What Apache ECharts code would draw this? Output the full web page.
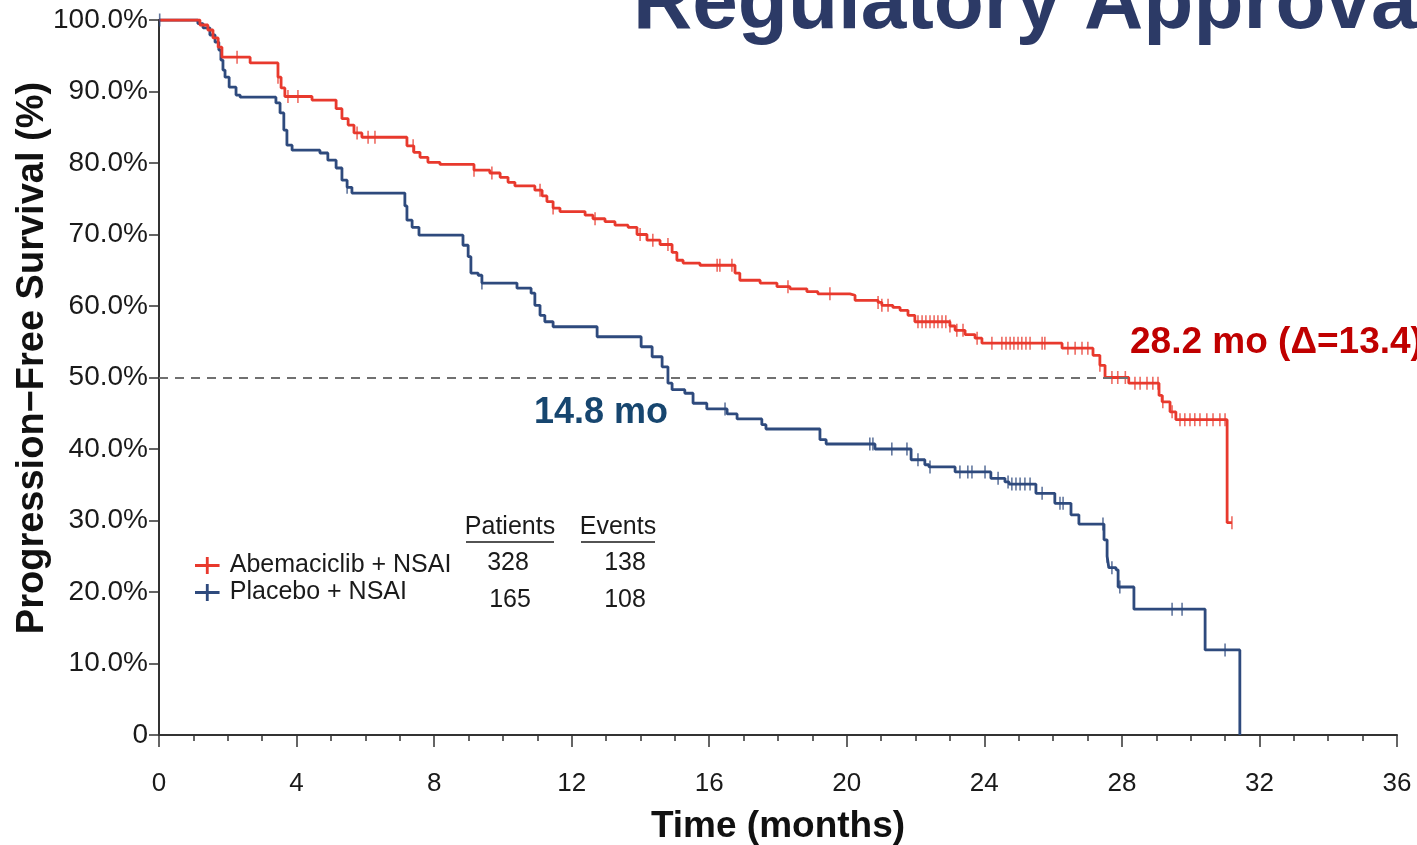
<!DOCTYPE html>
<html>
<head>
<meta charset="utf-8">
<script src="https://cdn.jsdelivr.net/npm/echarts@6/dist/echarts.min.js"></script>
<style>
  html, body { margin: 0; padding: 0; background: #ffffff; }
  #chart { width: 1417px; height: 845px; }
</style>
</head>
<body>
<div id="chart"></div>
<script>
// Kaplan–Meier progression-free survival, MONARCH 3 style display
const seriesNames = ['Abemaciclib + NSAI', 'Placebo + NSAI'];
const patients = [328, 165];
const events = [138, 108];
const medians = [28.2, 14.8];
const medianDelta = 13.4;

const xTicks = [0, 4, 8, 12, 16, 20, 24, 28, 32, 36];
const yTicks = [0, 10, 20, 30, 40, 50, 60, 70, 80, 90, 100];

// [time in months, survival % from that time on]
const abemaSteps = [
  [0,100],[1.19,99.3],[1.42,98.6],[1.57,97.5],[1.72,96.2],[1.83,94.8],[2.65,94.0],[3.46,92.0],[3.55,90.5],[3.66,89.3],
  [4.45,88.8],[5.15,87.6],[5.32,86.2],[5.50,85.3],[5.67,84.2],[5.90,83.6],[7.21,82.4],[7.41,81.5],[7.59,80.8],[7.82,80.1],
  [8.17,79.8],[9.16,79.0],[9.62,78.6],[9.92,78.0],[10.15,77.3],[10.35,76.8],[10.93,76.2],[11.14,75.4],[11.28,74.6],[11.46,73.7],
  [11.66,73.2],[12.39,72.7],[12.62,72.2],[12.97,71.8],[13.26,71.3],[13.64,71.0],[13.90,70.0],[14.19,69.2],[14.57,68.6],[14.92,67.5],
  [15.06,66.4],[15.24,66.0],[15.73,65.7],[16.75,64.6],[16.89,63.6],[17.48,63.2],[17.97,62.7],[18.35,62.4],[18.84,62.0],[19.16,61.7],
  [20.09,61.5],[20.24,60.8],[20.91,60.5],[21.02,60.1],[21.34,59.8],[21.55,59.4],[21.78,58.7],[21.98,57.8],[23.00,57.2],[23.15,56.6],
  [23.44,56.0],[23.73,55.5],[23.93,54.8],[26.26,54.1],[27.16,53.1],[27.36,51.7],[27.51,50.0],[28.2,49.2],[29.08,47.5],[29.17,46.6],
  [29.40,45.2],[29.57,44.1],[31.06,29.7],[31.2,29.7]
];
const placeboSteps = [
  [0,100],[1.13,99.5],[1.28,98.9],[1.48,97.9],[1.63,96.9],[1.74,95.8],[1.80,94.4],[1.86,93.0],[1.92,92.0],[2.04,90.6],
  [2.24,89.5],[2.36,89.2],[3.40,88.4],[3.52,87.0],[3.63,84.6],[3.72,82.5],[3.87,81.8],[4.68,81.4],[4.91,80.4],[5.15,79.3],
  [5.32,77.6],[5.47,76.6],[5.61,75.8],[7.15,74.0],[7.21,72.0],[7.36,71.0],[7.56,69.9],[8.84,68.5],[8.99,66.9],[9.07,64.6],
  [9.28,64.3],[9.39,63.2],[10.41,62.5],[10.82,61.8],[10.93,60.1],[11.08,58.7],[11.22,57.8],[11.46,57.1],[12.74,55.7],[14.02,54.3],
  [14.34,52.9],[14.63,51.5],[14.8,49.2],[14.92,48.3],[15.29,47.8],[15.53,46.4],[15.93,45.6],[16.52,44.9],[16.81,44.2],[17.53,43.4],
  [17.65,42.8],[19.22,41.3],[19.40,40.7],[20.82,40.0],[21.87,38.5],[22.27,37.8],[22.39,37.5],[23.15,36.8],[24.19,35.9],[24.60,35.4],
  [24.72,35.1],[25.50,33.8],[26.05,32.4],[26.52,30.8],[26.75,29.5],[27.48,27.3],[27.57,25.0],[27.62,23.4],[27.83,23.1],[27.89,20.7],
  [28.35,17.6],[30.42,11.9],[31.43,0]
];

// censoring times (months)
const abemaCensor = [
  2.27,3.46,3.75,4.04,5.76,6.08,6.28,7.39,9.16,9.68,11.08,11.46,12.68,13.99,14.36,14.80,16.23,16.31,16.66,18.29,
  19.51,20.91,21.02,21.20,22.07,22.19,22.30,22.42,22.54,22.65,22.77,22.88,23.00,23.20,23.38,23.79,24.22,
  24.51,24.63,24.75,24.86,24.98,25.09,25.21,25.33,25.68,25.76,26.43,26.64,26.84,27.01,27.36,27.71,27.88,28.10,
  28.38,28.53,28.73,28.90,29.05,29.19,29.46,29.69,29.83,29.98,30.12,30.27,30.47,30.65,30.85,31.00,31.20
];
const placeboCensor = [
  0.02,5.47,9.39,16.46,20.67,20.76,21.31,21.75,22.07,22.42,23.29,23.52,23.64,24.02,24.40,24.69,24.80,24.92,25.04,25.18,
  25.33,25.68,26.20,26.29,27.45,27.57,27.71,27.94,29.46,29.75,31.00
];

const RED = '#e8392d';
const BLUE = '#2e4a7d';
const FONT = '"Liberation Sans", Arial, Helvetica, sans-serif';

function survAt(steps, t) {
  let v = steps[0][1];
  for (const [x, y] of steps) { if (x <= t) v = y; else break; }
  return v;
}

const plusIcon = 'path://M0,7.5h26v3h-26z M11.5,0h3v18h-3z';

const chart = echarts.init(document.getElementById('chart'), null, { renderer: 'canvas' });

chart.setOption({
  backgroundColor: '#ffffff',
  animation: false,
  grid: { left: 159, right: 20, top: 20, bottom: 110, containLabel: false, outerBoundsMode: 'none' },
  xAxis: {
    type: 'value', min: 0, max: 36, interval: 4,
    name: 'Time (months)', nameLocation: 'middle', nameGap: 73,
    nameTextStyle: { fontFamily: FONT, fontWeight: 'bold', fontSize: 37, color: '#111' },
    axisLine: { show: true, lineStyle: { color: '#333', width: 2 } },
    axisTick: { show: true, inside: false, length: 12, lineStyle: { color: '#333', width: 1.5 } },
    minorTick: { show: true, splitNumber: 4, length: 6, lineStyle: { color: '#333', width: 1.5 } },
    axisLabel: {
      fontFamily: FONT, fontSize: 26, color: '#1a1a1a', margin: 36,
      formatter: v => xTicks.includes(v) ? String(v) : ''
    },
    splitLine: { show: false }
  },
  yAxis: {
    type: 'value', min: 0, max: 100, interval: 10,
    axisLine: { show: true, onZero: false, lineStyle: { color: '#333', width: 2 } },
    axisTick: { show: true, length: 10, lineStyle: { color: '#333', width: 1.5 } },
    axisLabel: {
      fontFamily: FONT, fontSize: 28, color: '#1a1a1a', margin: 11,
      formatter: v => yTicks.includes(v) ? (v === 0 ? '0' : v.toFixed(1) + '%') : ''
    },
    splitLine: { show: false }
  },
  legend: {
    data: seriesNames,
    orient: 'vertical', left: 190, top: 548,
    icon: plusIcon, itemWidth: 27, itemHeight: 17, itemGap: 2,
    textStyle: { fontFamily: FONT, fontSize: 25, color: '#1a1a1a', padding: [0, 0, 0, 4] },
    selectedMode: false
  },
  series: [
    {
      name: seriesNames[0], type: 'line', step: 'end', showSymbol: false, symbol: 'none',
      data: abemaSteps, color: RED,
      lineStyle: { color: RED, width: 2.8 }, z: 3,
      markLine: {
        silent: true, symbol: 'none', label: { show: false },
        lineStyle: { color: '#707070', type: [9, 7], width: 2 },
        data: [[{ coord: [0, 50] }, { coord: [medians[0], 50] }]]
      }
    },
    {
      name: seriesNames[1], type: 'line', step: 'end', showSymbol: false, symbol: 'none',
      data: placeboSteps, color: BLUE,
      lineStyle: { color: BLUE, width: 2.8 }, z: 2
    },
    {
      name: 'abema-censor', type: 'scatter', symbol: 'rect', symbolSize: [1.6, 13],
      data: abemaCensor.map(t => [t, survAt(abemaSteps, t)]),
      itemStyle: { color: RED, opacity: 0.75 }, z: 4
    },
    {
      name: 'placebo-censor', type: 'scatter', symbol: 'rect', symbolSize: [1.6, 13],
      data: placeboCensor.map(t => [t, survAt(placeboSteps, t)]),
      itemStyle: { color: BLUE, opacity: 0.75 }, z: 4
    }
  ],
  graphic: [
    {
      type: 'text', x: 633, y: 46,
      style: { text: 'Regulatory Approval', font: 'bold 82px ' + FONT, fill: '#2c3a66', align: 'left', verticalAlign: 'bottom' }
    },
    {
      type: 'text', x: 33, y: 358, rotation: Math.PI / 2,
      style: { text: 'Progression\u2212Free Survival (%)', font: 'bold 38px ' + FONT, fill: '#111', align: 'center', verticalAlign: 'middle' }
    },
    {
      type: 'text', x: 1130, y: 343,
      style: { text: medians[0] + ' mo (\u0394=' + medianDelta + ')', font: 'bold 37px ' + FONT, fill: '#c00000', align: 'left', verticalAlign: 'middle' }
    },
    {
      type: 'text', x: 534, y: 413,
      style: { text: medians[1] + ' mo', font: 'bold 36px ' + FONT, fill: '#17466f', align: 'left', verticalAlign: 'middle' }
    },
    { type: 'text', x: 510, y: 527, style: { text: 'Patients', font: '25px ' + FONT, fill: '#1a1a1a', align: 'center', verticalAlign: 'middle' } },
    { type: 'text', x: 618, y: 527, style: { text: 'Events', font: '25px ' + FONT, fill: '#1a1a1a', align: 'center', verticalAlign: 'middle' } },
    { type: 'line', shape: { x1: 466, y1: 542, x2: 554, y2: 542 }, style: { stroke: '#1a1a1a', lineWidth: 1.5 } },
    { type: 'line', shape: { x1: 581, y1: 542, x2: 655, y2: 542 }, style: { stroke: '#1a1a1a', lineWidth: 1.5 } },
    { type: 'text', x: 508, y: 563, style: { text: String(patients[0]), font: '25px ' + FONT, fill: '#1a1a1a', align: 'center', verticalAlign: 'middle' } },
    { type: 'text', x: 625, y: 563, style: { text: String(events[0]), font: '25px ' + FONT, fill: '#1a1a1a', align: 'center', verticalAlign: 'middle' } },
    { type: 'text', x: 510, y: 600, style: { text: String(patients[1]), font: '25px ' + FONT, fill: '#1a1a1a', align: 'center', verticalAlign: 'middle' } },
    { type: 'text', x: 625, y: 600, style: { text: String(events[1]), font: '25px ' + FONT, fill: '#1a1a1a', align: 'center', verticalAlign: 'middle' } }
  ]
});
</script>
</body>
</html>
